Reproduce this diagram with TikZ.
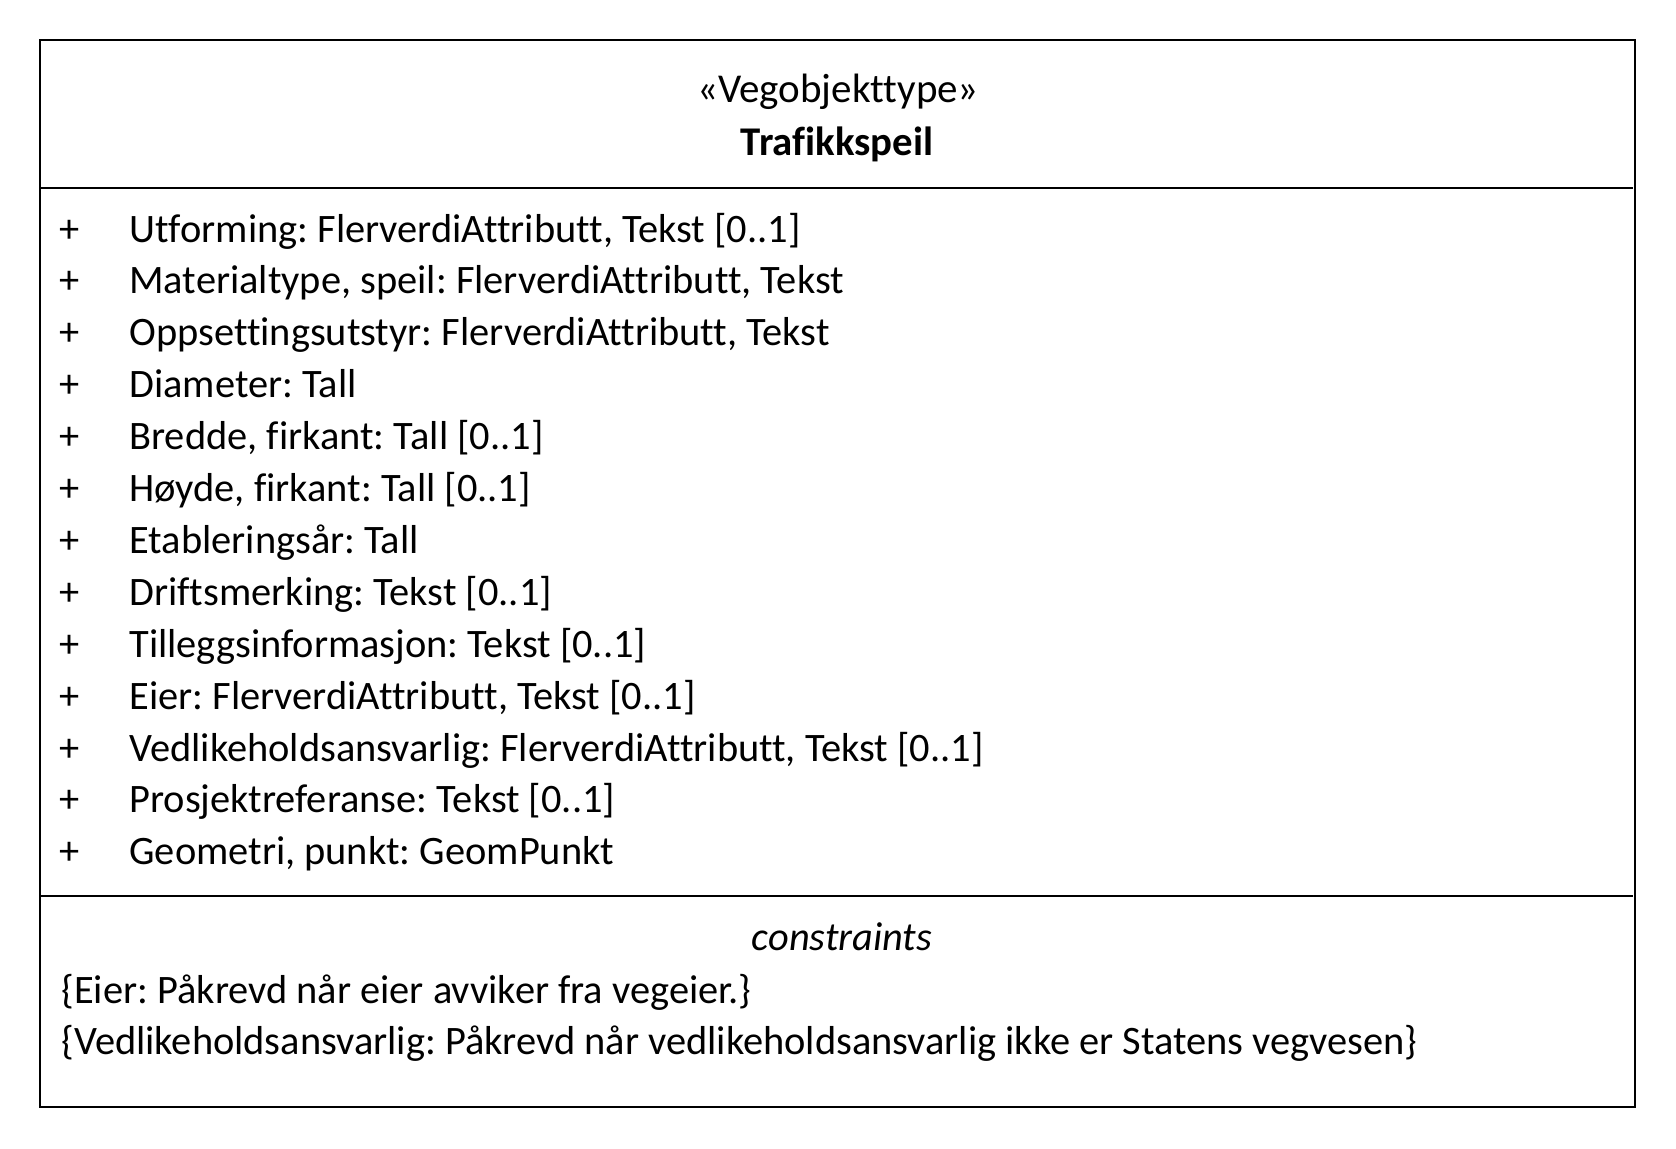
\documentclass[tikz,border=0pt]{standalone}
\usepackage{fontspec}
\setmainfont{Carlito}[Ligatures={NoCommon}]
\frenchspacing
\begin{document}
\begin{tikzpicture}[x=0.5pt,y=-0.5pt,
  txt/.style={inner sep=0pt,anchor=base west,font=\fontsize{20.2}{24}\selectfont},
  ctxt/.style={inner sep=0pt,anchor=base,font=\fontsize{20.2}{24}\selectfont},
  frame/.style={draw=black,line width=1pt}]
\useasboundingbox (0,0) rectangle (1676,1148);
\draw[frame] (40.3,40.3) rectangle (1635,1107);
\coordinate (s1l) at (40.3,188);
\coordinate (s1r) at (1633,188);
\coordinate (s2l) at (40.3,896);
\coordinate (s2r) at (1633,896);
\draw[frame] (s1l) -- (s1r);
\draw[frame] (s2l) -- (s2r);
\node[ctxt,font=\fontsize{20.5}{24}\selectfont] (stereo) at (838,102.5) {«Vegobjekttype»};
\node[ctxt,font=\fontsize{20.4}{24}\selectfont\bfseries] (name) at (837,155) {Trafikkspeil};
\foreach \t [count=\i from 0] in {
  {Utforming: FlerverdiAttributt, Tekst [0..1]},
  {Materialtype, speil: FlerverdiAttributt, Tekst},
  {Oppsettingsutstyr: FlerverdiAttributt, Tekst},
  {Diameter: Tall},
  {Bredde, firkant: Tall [0..1]},
  {Høyde, firkant: Tall [0..1]},
  {Etableringsår: Tall},
  {Driftsmerking: Tekst [0..1]},
  {Tilleggsinformasjon: Tekst [0..1]},
  {Eier: FlerverdiAttributt, Tekst [0..1]},
  {Vedlikeholdsansvarlig: FlerverdiAttributt, Tekst [0..1]},
  {Prosjektreferanse: Tekst [0..1]},
  {Geometri, punkt: GeomPunkt}} {
  \node[ctxt] (p\i) at (69.5,242+51.9*\i) {+};
  \node[txt] (a\i) at (129,242+51.9*\i) {\t};
}
\node[ctxt,font=\fontsize{20.2}{24}\selectfont\itshape] (cons) at (842,950) {constraints};
\node[txt] (c1) at (61,1003) {\{Eier: Påkrevd når eier avviker fra vegeier.\}};
\node[txt] (c2) at (61,1054) {\{Vedlikeholdsansvarlig: Påkrevd når vedlikeholdsansvarlig ikke er Statens vegvesen\}};
\end{tikzpicture}
\end{document}
